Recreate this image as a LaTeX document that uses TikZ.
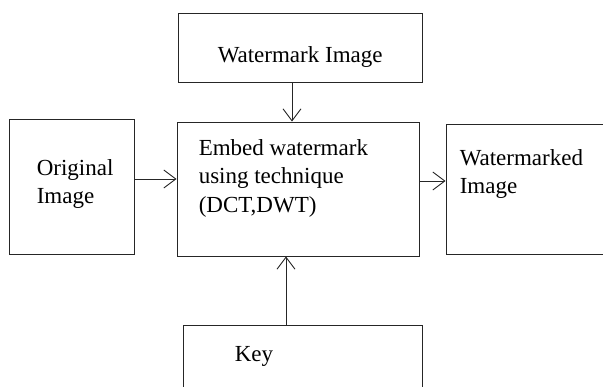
\documentclass[tikz,border=0pt]{standalone}
\usepackage{fontspec}
\setmainfont{Liberation Serif}
\usepackage{xcolor}
\usepackage{tikz}
\usetikzlibrary{calc, positioning, arrows.meta}

\begin{document}
\begin{tikzpicture}[x=1pt, y=1pt,
    >={Straight Barb[length=12pt, width=18pt]},
    box/.style={draw=black!85, line width=0.9pt, inner sep=0pt},
    lbl/.style={inner sep=0pt, anchor=north west, align=left,
        font=\fontsize{23}{28.5}\selectfont},
    arr/.style={->, draw=black!85, line width=0.9pt}]

    % =================================================================
    % 1. PAGE FRAME
    % =================================================================
    \useasboundingbox (0,0) rectangle (603,-387);

    % =================================================================
    % 2. THE FIVE BOXES
    % =================================================================
    \node[box, minimum width=244pt, minimum height=69pt] (wm) at (300,-47.5) {};
    \node[box, minimum width=125pt, minimum height=135pt] (orig) at (71.5,-186.5) {};
    \node[box, minimum width=242pt, minimum height=134pt] (embed) at (298,-189) {};
    \node[box, minimum width=162pt, minimum height=130pt] (wmd) at (527,-189) {};
    \node[box, minimum width=239pt, minimum height=70pt] (key) at (302.5,-360) {};

    % =================================================================
    % 3. TEXTS IN THE BOXES
    % =================================================================
    \node[lbl] (wmtxt) at ([shift={(40,-33.3)}]wm.north west) {Watermark Image};
    \node[lbl] (origtxt) at ([shift={(28,-40.3)}]orig.north west) {Original\\Image};
    \node[lbl] (embedtxt) at ([shift={(22,-17.3)}]embed.north west)
        {Embed watermark\\using technique\\(DCT,DWT)};
    \node[lbl] (wmdtxt) at ([shift={(14,-25.3)}]wmd.north west) {Watermarked\\Image};
    \node[lbl] (keytxt) at ([shift={(52,-21.8)}]key.north west) {Key};

    % =================================================================
    % 4. ARROWS INTO AND OUT OF THE EMBED BOX
    % =================================================================
    \draw[arr] ([xshift=-8pt]wm.south) -- ([xshift=-8pt]wm.south |- embed.north);
    \draw[arr] ([yshift=7.5pt]orig.east) -- ([yshift=7.5pt]orig.east -| embed.west);
    \draw[arr] ([yshift=8pt]embed.east) -- ([yshift=8pt]embed.east -| wmd.west);
    \draw[arr] ([xshift=-16.5pt]key.north) -- ([xshift=-16.5pt]key.north |- embed.south);

\end{tikzpicture}
\end{document}
